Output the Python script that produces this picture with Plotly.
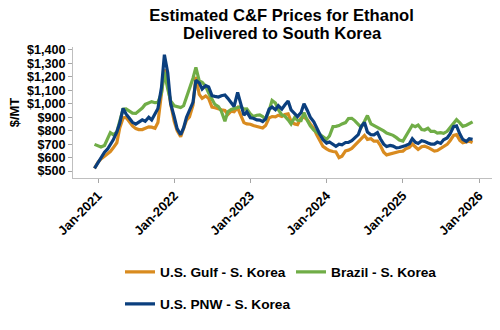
import pandas as pd
import plotly.graph_objects as go

# Semi-monthly observation dates, Dec 2020 - Dec 2025
dates = pd.date_range("2020-12-15", periods=120, freq="SMS")

# Estimated C&F prices, $/MT
gulf = [
    520, 565, 590, 610, 628, 645, 672, 710, 820, 895,
    900, 860, 835, 815, 808, 808, 818, 828, 826, 818,
    860, 1060, 1255, 1150, 1000, 870, 800, 755, 815, 878,
    902, 990, 1200, 1070, 1040, 1058, 1040, 975, 970, 960,
    955, 950, 920, 945, 940, 970, 915, 860, 850, 848,
    838, 832, 830, 820, 838, 895, 905, 902, 915, 905,
    920, 925, 870, 850, 845, 895, 900, 882, 850, 815,
    770, 725, 683, 665, 652, 645, 642, 600, 610, 650,
    655, 668, 692, 715, 745, 765, 735, 740, 722, 722,
    690, 640, 620, 628, 633, 642, 645, 648, 665, 676,
    700, 680, 660, 680, 685, 675, 665, 648, 652, 668,
    682, 698, 725, 765, 770, 728, 710, 718, 722, 712,
]
brazil = [
    698, 684, 678, 690, 745, 785, 770, 790, 870, 960,
    962, 948, 930, 928, 945, 968, 995, 1008, 1016, 1008,
    1010, 1080, 1235, 1110, 1020, 985, 978, 972, 985, 1045,
    1120, 1190, 1270, 1170, 1160, 1130, 1080, 1030, 995, 978,
    945, 870, 940, 958, 965, 970, 978, 960, 962, 925,
    905, 915, 918, 905, 885, 950, 1025, 1005, 955, 917,
    908, 880, 850, 898, 878, 875, 935, 875, 835, 805,
    790, 775, 757, 735, 760, 830, 832, 838, 850, 860,
    890, 892, 875, 850, 825, 870, 912, 850, 838, 830,
    812, 798, 782, 775, 765, 748, 730, 722, 760, 810,
    840, 830, 842, 808, 805, 818, 795, 795, 782, 785,
    780, 795, 820, 848, 882, 858, 832, 840, 852, 865,
]
pnw = [
    520, 565, 600, 640, 662, 695, 732, 790, 855, 965,
    925, 890, 862, 848, 860, 880, 870, 900, 880, 925,
    965, 1120, 1365, 1230, 1000, 905, 815, 770, 820, 900,
    950, 1010, 1175, 1155, 1110, 1135, 1125, 1060, 1055, 1050,
    1060, 1065, 1040, 1005, 980, 1085, 1010, 915, 940, 895,
    892, 880, 878, 868, 888, 960, 975, 955, 985, 960,
    990, 1020, 955, 925, 905, 935, 1000, 950, 900, 865,
    818, 770, 733, 708, 716, 695, 683, 700, 695, 712,
    712, 725, 748, 770, 830, 860, 790, 770, 768, 785,
    740, 700, 682, 690, 685, 672, 675, 682, 690, 702,
    740, 715, 705, 725, 720, 708, 700, 700, 715, 705,
    732, 745, 775, 830, 835, 775, 735, 720, 740, 735,
]

y_ticks = [500, 600, 700, 800, 900, 1000, 1100, 1200, 1300, 1400]
y_labels = ["$500", "$600", "$700", "$800", "$900",
            "$1,000", "$1,100", "$1,200", "$1,300", "$1,400"]

title_lines = ["Estimated C&F Prices for Ethanol", "Delivered to South Korea"]

FONT = "Liberation Sans, Arial, sans-serif"
AXIS_GREY = "#BFBFBF"

fig = go.Figure()
fig.add_trace(go.Scatter(
    x=dates, y=gulf, name="U.S. Gulf - S. Korea", mode="lines",
    line=dict(color="#D98B1F", width=3.2), legend="legend",
))
fig.add_trace(go.Scatter(
    x=dates, y=brazil, name="Brazil - S. Korea", mode="lines",
    line=dict(color="#70AD47", width=3.2), legend="legend",
))
fig.add_trace(go.Scatter(
    x=dates, y=pnw, name="U.S. PNW - S. Korea", mode="lines",
    line=dict(color="#0B3F7E", width=3.2), legend="legend2",
))

tick_font = dict(family=FONT, size=12.6, color="black", weight="bold")
legend_font = dict(family=FONT, size=13.7, color="black", weight="bold")
title_font = dict(family=FONT, size=16.6, color="black", weight="bold")

# Two-line title with tight line spacing: first line as the layout title,
# second line as a paper-anchored annotation just beneath it.
fig.update_layout(
    title=dict(
        text=title_lines[0], font=title_font,
        x=0.563, xanchor="center", xref="container",
        y=1 - 15 / 330, yanchor="middle", yref="container",
    ),
)
fig.add_annotation(
    text=title_lines[1], font=title_font, showarrow=False,
    xref="paper", yref="paper", x=0.5, y=1 + (47 - 33) / 131,
    xanchor="center", yanchor="middle",
)

fig.update_layout(
    width=500, height=330,
    margin=dict(l=73, r=8, t=47, b=152),
    paper_bgcolor="white", plot_bgcolor="white",
    xaxis=dict(
        type="date", range=["2020-09-03", "2026-03-04"],
        tick0="2021-01-01", dtick="M12", tickformat="%b-%Y", tickangle=-45,
        ticks="outside", ticklen=4, tickcolor="#A6A6A6",
        showline=True, linecolor=AXIS_GREY, linewidth=1,
        showgrid=False, zeroline=False,
        tickfont=dict(family=FONT, size=13, color="black", weight="bold"),
    ),
    yaxis=dict(
        range=[448, 1422], tickmode="array", tickvals=y_ticks, ticktext=y_labels,
        ticks="outside", ticklen=4, tickcolor="#A6A6A6",
        showline=True, linecolor=AXIS_GREY, linewidth=1,
        showgrid=False, zeroline=False, tickfont=tick_font,
        title=dict(text="$/MT", standoff=4,
                   font=dict(family=FONT, size=13, color="black", weight="bold")),
    ),
    legend=dict(
        orientation="h", xref="container", x=0.24, xanchor="left",
        yref="container", y=0.223, yanchor="top",
        entrywidth=126, entrywidthmode="pixels",
        font=legend_font,
    ),
    legend2=dict(
        orientation="h", xref="container", x=0.24, xanchor="left",
        yref="container", y=0.126, yanchor="top",
        font=legend_font,
    ),
)

fig.write_html("out.html")
